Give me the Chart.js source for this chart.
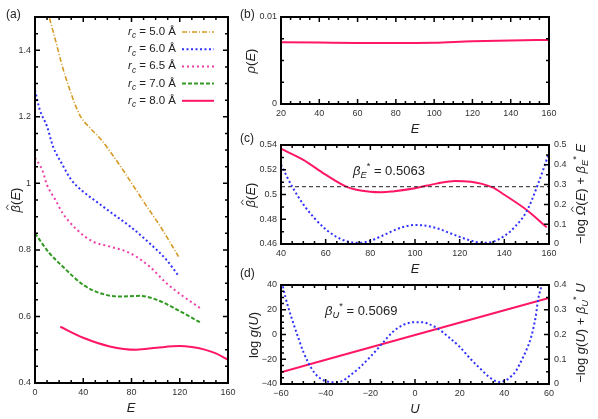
<!DOCTYPE html>
<html>
<head>
<meta charset="utf-8">
<script src="https://cdn.jsdelivr.net/npm/chart.js@4.4.1/dist/chart.umd.min.js"></script>
<style>
    body { margin: 0; background: #fff; }
    #wrap { position: relative; width: 598px; height: 419px; }
    #wrap canvas { position: absolute; left: 0; top: 0; }
</style>
</head>
<body>
<div id="wrap">
    <canvas id="chart-a" width="598" height="419"></canvas>
    <canvas id="chart-b" width="598" height="419"></canvas>
    <canvas id="chart-c" width="598" height="419"></canvas>
    <canvas id="chart-d" width="598" height="419"></canvas>
</div>
<script>
// ---- data ----
var rcLabels = ['5.0', '6.0', '6.5', '7.0', '8.0'];

// (a) beta-hat(E) for each cutoff
var eRc50 = [12, 17, 22, 28, 37, 46, 54, 62, 73, 82, 91, 104, 119];
var betaRc50 = [1.496, 1.43, 1.36, 1.29, 1.206, 1.165, 1.135, 1.097, 1.04, 0.99, 0.94, 0.87, 0.78];
var eRc60 = [0, 4, 10, 15, 22, 30, 40, 51, 62, 79, 95, 109, 119];
var betaRc60 = [1.28, 1.221, 1.171, 1.11, 1.061, 1.011, 0.975, 0.945, 0.915, 0.87, 0.82, 0.77, 0.722];
var eRc65 = [0, 6, 10, 17, 23, 35, 48, 62, 79, 95, 109, 123, 137];
var betaRc65 = [1.077, 1.04, 0.995, 0.95, 0.91, 0.86, 0.825, 0.81, 0.79, 0.75, 0.70, 0.66, 0.625];
var eRc70 = [0, 12, 23, 40, 54, 70, 87, 101, 118, 137];
var betaRc70 = [0.85, 0.79, 0.75, 0.695, 0.67, 0.66, 0.662, 0.65, 0.62, 0.582];
var eRc80 = [21, 40, 62, 84, 101, 120, 130, 140, 150, 160];
var betaRc80 = [0.569, 0.536, 0.51, 0.50, 0.506, 0.511, 0.508, 0.501, 0.489, 0.47];

// (b) rho(E)
var eRho = [20, 40, 60, 80, 100, 120, 140, 160];
var rho = [0.0071, 0.00706, 0.00702, 0.007, 0.00705, 0.00722, 0.00731, 0.00736];

// (c) beta-hat(E) and -log Omega-hat(E) + beta*E
var betaStarE = 0.5063;
var eC = [40, 50, 60, 70, 80, 85, 90, 100, 110, 118, 125, 130, 135, 140, 150, 159];
var betaC = [0.537, 0.528, 0.516, 0.5058, 0.5022, 0.5018, 0.5025, 0.505, 0.509, 0.511, 0.5103, 0.5086, 0.5055, 0.4998, 0.4875, 0.4735];
var eOmega = [40, 45, 50, 55, 60, 65, 70, 75, 80, 85, 90, 95, 100, 105, 110, 115, 120, 125, 130, 135, 140, 145, 150, 155, 160];
var omegaC = [0.40, 0.29, 0.20, 0.13, 0.075, 0.035, 0.012, 0.006, 0.016, 0.04, 0.066, 0.087, 0.096, 0.092, 0.079, 0.058, 0.036, 0.017, 0.006, 0.012, 0.04, 0.09, 0.165, 0.3, 0.46];

// (d) log g(U) and -log g(U) + beta*U
var betaStarU = 0.5069;
var uLine = [-60, 0, 60];
var logG = [-30.5, -0.4, 29.6];
var uG = [-60, -58, -55, -52, -50, -48, -45, -42, -38, -35, -32, -30, -25, -20, -15, -10, -5, 0, 3, 6, 10, 15, 20, 25, 29, 33, 36, 38, 40, 42, 45, 47, 50, 52, 54, 55.2, 56.7, 58];
var wellG = [0.43, 0.35, 0.26, 0.18, 0.13, 0.09, 0.045, 0.02, 0.008, 0.007, 0.015, 0.028, 0.065, 0.11, 0.16, 0.21, 0.24, 0.25, 0.25, 0.243, 0.225, 0.19, 0.15, 0.1, 0.064, 0.03, 0.012, 0.008, 0.012, 0.023, 0.05, 0.083, 0.14, 0.19, 0.27, 0.345, 0.4, 0.46];

// tick labels
var aXTicks = [0, 40, 80, 120, 160];
var aYTicks = [0.4, 0.6, 0.8, 1, 1.2, 1.4];
var bXTicks = [20, 40, 60, 80, 100, 120, 140, 160];
var bYTicks = [0, 0.01];
var cXTicks = [40, 60, 80, 100, 120, 140, 160];
var cYTicks = [0.46, 0.48, 0.5, 0.52, 0.54];
var cY2Ticks = [0, 0.1, 0.2, 0.3, 0.4, 0.5];
var dXTicks = [-60, -40, -20, 0, 20, 40, 60];
var dYTicks = [-40, -20, 0, 20, 40];
var dY2Ticks = [0, 0.1, 0.2, 0.3, 0.4];

var FONT = '"Liberation Sans", Arial, sans-serif';
var PINK = '#ff1764';
var BLUE = '#3232ff';
Chart.defaults.font.family = FONT;
Chart.defaults.color = '#333';
Chart.defaults.animation = false;

function pts(xs, ys) {
    return xs.map(function(x, i) { return { x: x, y: ys[i] }; });
}

function fmt(v) {
    return v < 0 ? '\u2212' + (-v) : String(v);
}

function series(label, xs, ys, color, dash, width, axisId) {
    return {
        label: label,
        data: pts(xs, ys),
        borderColor: color,
        borderDash: dash || [],
        borderWidth: width || 2,
        pointRadius: 0,
        fill: false,
        cubicInterpolationMode: 'monotone',
        yAxisID: axisId || 'y'
    };
}

function axis(pos, min, max, ticks, box, pad) {
    return {
        type: 'linear',
        position: pos,
        min: min,
        max: max,
        grid: { display: false, drawTicks: false },
        border: { display: false },
        ticks: { autoSkip: false, maxRotation: 0, padding: pad, font: { size: 9 }, color: '#333', callback: fmt },
        afterBuildTicks: function(s) { s.ticks = ticks.map(function(v) { return { value: v }; }); },
        afterFit: function(s) { if (s.isHorizontal()) s.height = box; else s.width = box; }
    };
}

// rich text: parts [{t, i (italic), sub, sup, hat}]
function rich(ctx, parts, x, y, size, align, rotate) {
    ctx.save();
    ctx.translate(x, y);
    if (rotate) ctx.rotate(-Math.PI / 2);
    ctx.fillStyle = '#222';
    ctx.strokeStyle = '#222';
    ctx.textBaseline = 'alphabetic';
    var widths = [], total = 0;
    function setFont(p) {
        var s = (p.sub || p.sup) ? size * 0.72 : size;
        ctx.font = (p.i ? 'italic ' : '') + s + 'px ' + FONT;
    }
    parts.forEach(function(p) {
        setFont(p);
        var w = ctx.measureText(p.t).width;
        widths.push(w);
        total += w;
    });
    var cx = align === 'left' ? 0 : (align === 'right' ? -total : -total / 2);
    var by = size * 0.35;
    parts.forEach(function(p, k) {
        setFont(p);
        var dy = p.sub ? size * 0.3 : (p.sup ? -size * 0.45 : 0);
        ctx.fillText(p.t, cx, by + dy);
        if (p.hat) {
            var hx = cx + widths[k] / 2 + size * 0.1;
            var hy = by - size * 0.86;
            ctx.lineWidth = 0.9;
            ctx.beginPath();
            ctx.moveTo(hx - size * 0.2, hy);
            ctx.lineTo(hx, hy - size * 0.16);
            ctx.lineTo(hx + size * 0.2, hy);
            ctx.stroke();
        }
        cx += widths[k];
    });
    ctx.restore();
}

function isMajor(v, major) {
    var q = v / major;
    return Math.abs(q - Math.round(q)) < 1e-6;
}

function stepValues(min, max, step) {
    var out = [];
    for (var k = 0; ; k++) {
        var v = min + k * step;
        if (v > max + step * 1e-6) break;
        out.push(v);
    }
    return out;
}

// frame with inward ticks, then extra texts
function framePlugin(p) {
    return {
        id: 'frame',
        afterDatasetsDraw: function(chart) {
            var ctx = chart.ctx, a = chart.chartArea;
            ctx.save();
            ctx.strokeStyle = '#000';
            ctx.lineWidth = 1.5;
            ctx.beginPath();
            var xs = chart.scales.x;
            stepValues(xs.min, xs.max, p.xMinor).forEach(function(v) {
                var px = xs.getPixelForValue(v), len = isMajor(v, p.xMajor) ? 5 : 3;
                ctx.moveTo(px, a.bottom); ctx.lineTo(px, a.bottom - len);
                ctx.moveTo(px, a.top); ctx.lineTo(px, a.top + len);
            });
            var ys = chart.scales.y;
            var rs = chart.scales.y2 || ys;
            var rMinor = chart.scales.y2 ? p.y2Minor : p.yMinor;
            var rMajor = chart.scales.y2 ? p.y2Major : p.yMajor;
            stepValues(ys.min, ys.max, p.yMinor).forEach(function(v) {
                var py = ys.getPixelForValue(v), len = isMajor(v, p.yMajor) ? 5 : 3;
                ctx.moveTo(a.left, py); ctx.lineTo(a.left + len, py);
            });
            stepValues(rs.min, rs.max, rMinor).forEach(function(v) {
                var py = rs.getPixelForValue(v), len = isMajor(v, rMajor) ? 5 : 3;
                ctx.moveTo(a.right, py); ctx.lineTo(a.right - len, py);
            });
            ctx.stroke();
            ctx.lineWidth = 2;
            ctx.strokeRect(a.left, a.top, a.right - a.left, a.bottom - a.top);
            ctx.restore();
            if (p.draw) p.draw(ctx, chart);
        }
    };
}

function makePanel(id, p, datasets) {
    var xH = 22, yW = 30, y2W = 30;
    var scales = {
        x: axis('bottom', p.x[0], p.x[1], p.xTicks, xH, 4),
        y: axis('left', p.y[0], p.y[1], p.yTicks, yW, 4)
    };
    if (p.y2) scales.y2 = axis('right', p.y2[0], p.y2[1], p.y2Ticks, y2W, 5);
    return new Chart(document.getElementById(id).getContext('2d'), {
        type: 'line',
        data: { datasets: datasets },
        options: {
            responsive: false,
            devicePixelRatio: 1,
            events: [],
            layout: {
                padding: {
                    left: p.area.l - yW,
                    top: p.area.t,
                    right: 598 - p.area.r - (p.y2 ? y2W : 0),
                    bottom: 419 - p.area.b - xH
                }
            },
            plugins: { legend: { display: false }, tooltip: { enabled: false } },
            scales: scales
        },
        plugins: [framePlugin(p)]
    });
}

var BETA_HAT_E = [{ t: 'β', i: 1, hat: 1 }, { t: '(' }, { t: 'E', i: 1 }, { t: ')' }];

// ---- (a) ----
var aSets = [
    series(rcLabels[0], eRc50, betaRc50, '#d69b26', [5, 2, 1, 2], 1.6),
    series(rcLabels[1], eRc60, betaRc60, BLUE, [2, 2.5], 2),
    series(rcLabels[2], eRc65, betaRc65, '#ee3fa6', [2, 3], 2),
    series(rcLabels[3], eRc70, betaRc70, '#329a22', [4, 2], 2),
    series(rcLabels[4], eRc80, betaRc80, PINK, [], 2)
];
makePanel('chart-a', {
    area: { l: 35, t: 17, r: 228, b: 383 },
    x: [0, 160], xTicks: aXTicks, xMajor: 40, xMinor: 10,
    y: [0.4, 1.5], yTicks: aYTicks, yMajor: 0.2, yMinor: 0.05,
    draw: function(ctx, chart) {
        rich(ctx, [{ t: '(a)' }], 6, 14, 12, 'left');
        rich(ctx, BETA_HAT_E, 15, 200, 13, 'center', true);
        rich(ctx, [{ t: 'E', i: 1 }], 131, 407, 13, 'center');
        chart.data.datasets.forEach(function(ds, k) {
            var yy = 32 + k * 17.2;
            rich(ctx, [{ t: 'r', i: 1 }, { t: 'c', i: 1, sub: 1 }, { t: ' = ' + ds.label + ' Å' }], 176, yy - 1, 11.5, 'right');
            ctx.save();
            ctx.strokeStyle = ds.borderColor;
            ctx.lineWidth = ds.borderWidth;
            ctx.setLineDash(ds.borderDash);
            ctx.beginPath();
            ctx.moveTo(182, yy);
            ctx.lineTo(214, yy);
            ctx.stroke();
            ctx.restore();
        });
    }
}, aSets);

// ---- (b) ----
makePanel('chart-b', {
    area: { l: 281, t: 17, r: 549, b: 104 },
    x: [20, 160], xTicks: bXTicks, xMajor: 20, xMinor: 5,
    y: [0, 0.01], yTicks: bYTicks, yMajor: 0.01, yMinor: 0.0025,
    draw: function(ctx) {
        rich(ctx, [{ t: '(b)' }], 240, 14, 12, 'left');
        rich(ctx, [{ t: 'ρ', i: 1 }, { t: '(' }, { t: 'E', i: 1 }, { t: ')' }], 250, 61, 13, 'center', true);
        rich(ctx, [{ t: 'E', i: 1 }], 415, 128, 13, 'center');
    }
}, [series('rho', eRho, rho, PINK, [], 2)]);

// ---- (c) ----
makePanel('chart-c', {
    area: { l: 281, t: 145, r: 549, b: 244 },
    x: [40, 160], xTicks: cXTicks, xMajor: 20, xMinor: 5,
    y: [0.46, 0.54], yTicks: cYTicks, yMajor: 0.02, yMinor: 0.01,
    y2: [0, 0.5], y2Ticks: cY2Ticks, y2Major: 0.1, y2Minor: 0.05,
    draw: function(ctx) {
        rich(ctx, [{ t: '(c)' }], 240, 138, 12, 'left');
        rich(ctx, BETA_HAT_E, 250, 195, 13, 'center', true);
        rich(ctx, [{ t: 'E', i: 1 }], 415, 268, 13, 'center');
        rich(ctx, [{ t: '\u2212log ' }, { t: 'Ω', i: 1, hat: 1 }, { t: '(' }, { t: 'E', i: 1 }, { t: ') + ' },
            { t: 'β', i: 1 }, { t: 'E', i: 1, sub: 1 }, { t: '*', sup: 1 }, { t: ' ' }, { t: 'E', i: 1 }], 580, 194, 13, 'center', true);
        rich(ctx, [{ t: 'β', i: 1 }, { t: 'E', i: 1, sub: 1 }, { t: '*', sup: 1 }, { t: ' = ' + betaStarE }], 353, 170, 13, 'left');
    }
}, [
    series('omega', eOmega, omegaC, BLUE, [2, 2.5], 2, 'y2'),
    Object.assign(series('betaStar', [40, 160], [betaStarE, betaStarE], '#222', [4, 3], 1), { cubicInterpolationMode: 'default', tension: 0 }),
    series('beta', eC, betaC, PINK, [], 2)
]);

// ---- (d) ----
makePanel('chart-d', {
    area: { l: 281, t: 285, r: 549, b: 384 },
    x: [-60, 60], xTicks: dXTicks, xMajor: 20, xMinor: 5,
    y: [-40, 40], yTicks: dYTicks, yMajor: 20, yMinor: 5,
    y2: [0, 0.4], y2Ticks: dY2Ticks, y2Major: 0.1, y2Minor: 0.05,
    draw: function(ctx) {
        rich(ctx, [{ t: '(d)' }], 240, 273, 12, 'left');
        rich(ctx, [{ t: 'log ' }, { t: 'g', i: 1 }, { t: '(' }, { t: 'U', i: 1 }, { t: ')' }], 253, 335, 13, 'center', true);
        rich(ctx, [{ t: 'U', i: 1 }], 415, 408, 13, 'center');
        rich(ctx, [{ t: '\u2212log ' }, { t: 'g', i: 1 }, { t: '(' }, { t: 'U', i: 1 }, { t: ') + ' },
            { t: 'β', i: 1 }, { t: 'U', i: 1, sub: 1 }, { t: '*', sup: 1 }, { t: ' ' }, { t: 'U', i: 1 }], 580, 333, 13, 'center', true);
        rich(ctx, [{ t: 'β', i: 1 }, { t: 'U', i: 1, sub: 1 }, { t: '*', sup: 1 }, { t: ' = ' + betaStarU }], 325, 310, 13, 'left');
    }
}, [
    series('well', uG, wellG, BLUE, [2, 2.5], 2, 'y2'),
    series('logg', uLine, logG, PINK, [], 2)
]);
</script>
</body>
</html>
